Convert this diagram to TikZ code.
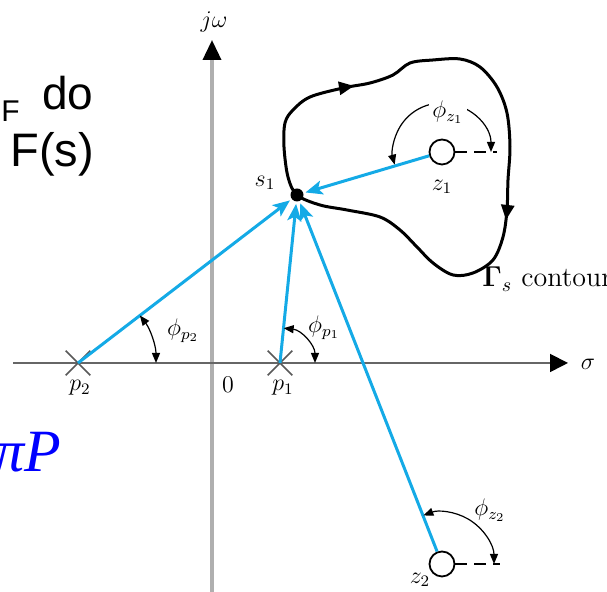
\documentclass[tikz,border=0pt]{standalone}
\usepackage[no-math]{fontspec}
\usepackage{tikz}
\usetikzlibrary{
  arrows.meta,
  shapes.misc,
  decorations.markings,
  calc
}
\newfontfamily\arialfont{Liberation Sans}
\newfontfamily\timesfont{Liberation Serif}
\definecolor{vecblue}{RGB}{20,170,230}
\definecolor{axisgray}{RGB}{175,175,175}

\begin{document}
\begin{tikzpicture}[
  x=0.5pt, y=0.5pt,
  lbl/.style={font=\fontsize{12}{14}\selectfont, inner sep=0pt},
  pole/.style={cross out, draw=black!65, line width=0.8pt, minimum size=11.5pt, inner sep=0pt},
  zero/.style={circle, draw, line width=0.9pt, fill=white, minimum size=12.5pt, inner sep=0pt},
  dot/.style={circle, fill=black, minimum size=6.5pt, inner sep=0pt},
  vec/.style={vecblue, line width=1.5pt, -{Stealth[length=8.5pt,width=7pt,inset=2pt]}, shorten >=1pt},
  ang/.style={line width=0.6pt, {Triangle[length=5pt,width=4pt]}-{Triangle[length=5pt,width=4pt]}},
  ref/.style={line width=0.7pt, dash pattern=on 6pt off 3.5pt},
  contour/.style={line width=1.5pt, postaction={decorate}, decoration={markings,
      mark=at position 0.19 with {\arrow{Triangle[length=7.5pt,width=6.5pt]}},
      mark=at position 0.6 with {\arrow{Triangle[length=7.5pt,width=6.5pt]}}}}
]
  \useasboundingbox (0,0) rectangle (607,592);

  \coordinate (wbot) at (212,-5);
  \coordinate (wtop) at (212,552);
  \coordinate (sleft) at (13,229);
  \coordinate (sright) at (568,229);
  \draw[line width=1.8pt, axisgray, -{Triangle[length=10pt,width=9pt,color=black]}] (wbot) -- (wtop);
  \draw[line width=0.9pt, black!60, -{Triangle[length=9pt,width=9pt,color=black]}] (sleft) -- (sright);

  \node[pole] (p2) at (78,229) {};
  \node[pole] (p1) at (280,229) {};
  \node[zero] (z1) at (442,440) {};
  \node[zero] (z2) at (442,28) {};
  \node[dot] (s1) at (297,397) {};

  \draw[contour] plot[smooth cycle, tension=0.55] coordinates {
    (297,397) (288,415) (284,445) (285,469) (293,482) (310,495) (343,504)
    (370,509) (393,517) (410,529) (433,532) (460,533) (480,525) (497,505)
    (507,479) (510,445) (508,412) (507,382) (503,355) (493,332) (473,319)
    (453,317) (433,329) (417,345) (400,362) (380,375) (347,382) (320,387)};

  \draw[vec] (p2.center) -- (s1);
  \draw[vec] (p1.center) -- (s1);
  \draw[vec] (z1) -- (s1);
  \draw[vec] (z2) -- (s1);

  \coordinate (z1ref) at (497,440);
  \coordinate (z2ref) at (500,28);
  \draw[ref] (z1) -- (z1ref);
  \draw[ref] (z2) -- (z2ref);

  \draw[ang] ([shift={(0:78)}]p2.center) arc[start angle=0, end angle=37.5, radius=78];
  \draw[ang] ([shift={(0:35)}]p1.center) arc[start angle=0, end angle=84, radius=35];
  \draw[ang] ([shift={(0:49)}]z1.center) arc[start angle=0, end angle=195, radius=49];
  \draw[ang] ([shift={(0:52)}]z2.center) arc[start angle=0, end angle=111, radius=52];

  \node[lbl] (jw) at (214,570) {$j\omega$};
  \node[lbl] (sig) at (588,228) {$\sigma$};
  \node[lbl] (s1lbl) at (265,409) {$s_1$};
  \node[lbl] (z1lbl) at (442,405) {$z_1$};
  \node[lbl] (z2lbl) at (420,12) {$z_2$};
  \node[lbl] (p2lbl) at (80,204) {$p_2$};
  \node[lbl] (p1lbl) at (283,204) {$p_1$};
  \node[lbl] (orig) at (228,207) {$0$};
  \node[lbl, fill=white, inner sep=1.5pt] (phz1) at (448,480) {$\phi_{z_1}$};
  \node[lbl] (phz2) at (490,82) {$\phi_{z_2}$};
  \node[lbl] (php2) at (183,261) {$\phi_{p_2}$};
  \node[lbl] (php1) at (324,264) {$\phi_{p_1}$};
  \node[lbl, anchor=base west, font=\fontsize{14}{16}\selectfont] (gam) at (482,305) {$\mathbf{\Gamma}_s$ contour};

  \node[anchor=base west, inner sep=0pt, font=\arialfont\fontsize{15}{15}\selectfont] (ftag) at (1,470) {F};
  \node[anchor=base west, inner sep=0pt, font=\arialfont\fontsize{23}{23}\selectfont] (dotxt) at (42,482) {do};
  \node[anchor=base west, inner sep=0pt, font=\arialfont\fontsize{23.5}{24}\selectfont] (fs) at (10,425) {F(s)};
  \node[anchor=base east, inner sep=0pt, text=blue, font=\timesfont\itshape\fontsize{30}{30}\selectfont] (pip) at (62,120) {πP};
\end{tikzpicture}
\end{document}
